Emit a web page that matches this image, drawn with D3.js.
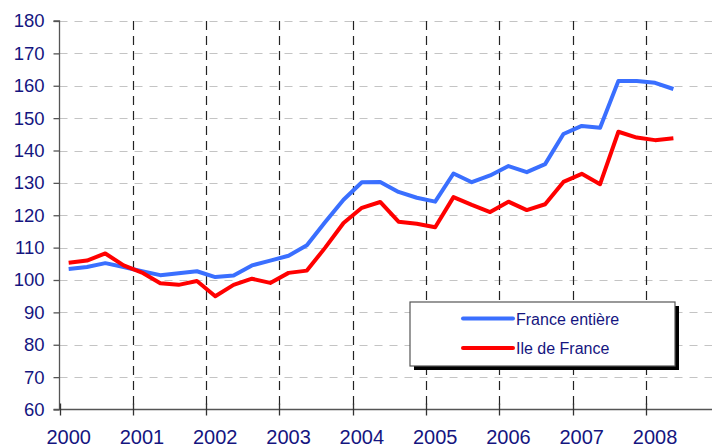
<!DOCTYPE html>
<html>
<head>
<meta charset="utf-8">
<script src="https://cdn.jsdelivr.net/npm/d3@7"></script>
<style>
  html, body { margin: 0; padding: 0; background: #fff; }
  svg { display: block; font-family: "Liberation Sans", Arial, sans-serif; }
</style>
</head>
<body>
<svg id="chart" width="712" height="448"></svg>
<script>
// ---- data ----
const periods = [
  "2000-T1","2000-T2","2000-T3","2000-T4",
  "2001-T1","2001-T2","2001-T3","2001-T4",
  "2002-T1","2002-T2","2002-T3","2002-T4",
  "2003-T1","2003-T2","2003-T3","2003-T4",
  "2004-T1","2004-T2","2004-T3","2004-T4",
  "2005-T1","2005-T2","2005-T3","2005-T4",
  "2006-T1","2006-T2","2006-T3","2006-T4",
  "2007-T1","2007-T2","2007-T3","2007-T4",
  "2008-T1","2008-T2"
];
const franceEntiere = [
  103.4, 104.0, 105.2, 104.0,
  102.7, 101.5, 102.1, 102.7,
  100.9, 101.4, 104.5, 106.0,
  107.5, 110.7, 117.9, 124.8,
  130.2, 130.3, 127.2, 125.4,
  124.2, 132.9, 130.2, 132.3,
  135.2, 133.3, 135.8, 145.1,
  147.6, 147.0, 161.5, 161.5,
  160.9, 159.0
];
const ileDeFrance = [
  105.3, 106.0, 108.2, 104.5,
  102.3, 99.0, 98.5, 99.7,
  95.0, 98.5, 100.4, 99.1,
  102.2, 102.9, 110.0, 117.6,
  122.3, 124.1, 118.0, 117.4,
  116.3, 125.6, 123.2, 121.0,
  124.2, 121.6, 123.4, 130.3,
  132.8, 129.6, 145.8, 144.0,
  143.2, 143.8
];
const yearLabels = ["2000","2001","2002","2003","2004","2005","2006","2007","2008"];
const yTicks = [60,70,80,90,100,110,120,130,140,150,160,170,180];
const seriesNames = ["France entière", "Ile de France"];
const seriesColors = ["#3a6fff", "#ff0000"];

// ---- layout ----
const svg = d3.select("#chart");
const x0 = 59.5, xRightAxis = 712, yTop = 21, yBottom = 409.5;
const yearWidth = 73.3;
const textColor = "#15157f";

const x = d3.scaleLinear().domain([2000, 2009]).range([x0, x0 + 9 * yearWidth]);
const y = d3.scaleLinear().domain([60, 180]).range([yBottom, yTop]);

const periodTime = p => {
  const [yr, q] = p.split("-T");
  return +yr + (+q - 0.5) / 4;
};

// horizontal gridlines
svg.append("g").selectAll("line")
  .data(yTicks.filter(v => v > 60))
  .join("line")
  .attr("x1", x0).attr("x2", xRightAxis)
  .attr("y1", d => Math.round(y(d)) + 0.5).attr("y2", d => Math.round(y(d)) + 0.5)
  .attr("stroke", "#c4c4c4").attr("stroke-width", 1.2)
  .attr("stroke-dasharray", "8,7");

// vertical gridlines (year boundaries)
svg.append("g").selectAll("line")
  .data(yearLabels.slice(1).map(v => +v))
  .join("line")
  .attr("x1", d => Math.round(x(d)) + 0.5).attr("x2", d => Math.round(x(d)) + 0.5)
  .attr("y1", yTop).attr("y2", yBottom)
  .attr("stroke", "#222").attr("stroke-width", 1.2)
  .attr("stroke-dasharray", "9,6");

// y axis
const yAxis = d3.axisLeft(y).tickValues(yTicks).tickSize(6).tickPadding(9).tickFormat(d3.format("d"));
const gy = svg.append("g").attr("transform", `translate(${x0},0)`).call(yAxis);
gy.select(".domain").attr("stroke", "#555").attr("stroke-width", 1.3).attr("d", `M-6,${yTop}H0V${yBottom}`);
gy.selectAll(".tick line").attr("stroke", "#555").attr("stroke-width", 1.3);
gy.selectAll(".tick text").attr("fill", textColor).attr("font-size", "18.5px")
  .attr("font-family", "'Liberation Sans', Arial, sans-serif");

// x axis line
svg.append("line")
  .attr("x1", x0 - 6).attr("x2", xRightAxis)
  .attr("y1", yBottom).attr("y2", yBottom)
  .attr("stroke", "#555").attr("stroke-width", 1.3);

// x ticks (cross)
svg.append("g").selectAll("line")
  .data(d3.range(2000, 2010))
  .join("line")
  .attr("x1", d => Math.round(x(d)) + 0.5).attr("x2", d => Math.round(x(d)) + 0.5)
  .attr("y1", yBottom - 6).attr("y2", yBottom + 6)
  .attr("stroke", "#333").attr("stroke-width", 1.3);

// x labels (centered on first quarter)
svg.append("g").selectAll("text")
  .data(yearLabels)
  .join("text")
  .attr("x", d => x(+d + 0.125))
  .attr("y", 444)
  .attr("text-anchor", "middle")
  .attr("fill", textColor)
  .attr("font-size", "20px")
  .text(d => d);

// lines
const line = d3.line()
  .x((d, i) => x(periodTime(periods[i])))
  .y(d => y(d));

[franceEntiere, ileDeFrance].forEach((vals, k) => {
  svg.append("path")
    .datum(vals)
    .attr("d", line)
    .attr("fill", "none")
    .attr("stroke", seriesColors[k])
    .attr("stroke-width", 4)
    .attr("stroke-linejoin", "round")
    .attr("stroke-linecap", "butt");
});

// legend
const lg = svg.append("g");
const lx = 410, ly = 302, lw = 265, lh = 64;
lg.append("rect").attr("x", lx + 4).attr("y", ly + 4).attr("width", lw).attr("height", lh).attr("fill", "#000");
lg.append("rect").attr("x", lx).attr("y", ly).attr("width", lw).attr("height", lh)
  .attr("fill", "#fff").attr("stroke", "#555").attr("stroke-width", 1.2);
seriesNames.forEach((name, k) => {
  const yy = ly + 16.5 + k * 29.5;
  lg.append("line").attr("x1", 463).attr("x2", 513).attr("y1", yy).attr("y2", yy)
    .attr("stroke", seriesColors[k]).attr("stroke-width", 4).attr("stroke-linecap", "round");
  lg.append("text").attr("x", 516).attr("y", yy + 6)
    .attr("fill", textColor).attr("font-size", "16px").text(name);
});
</script>
</body>
</html>
